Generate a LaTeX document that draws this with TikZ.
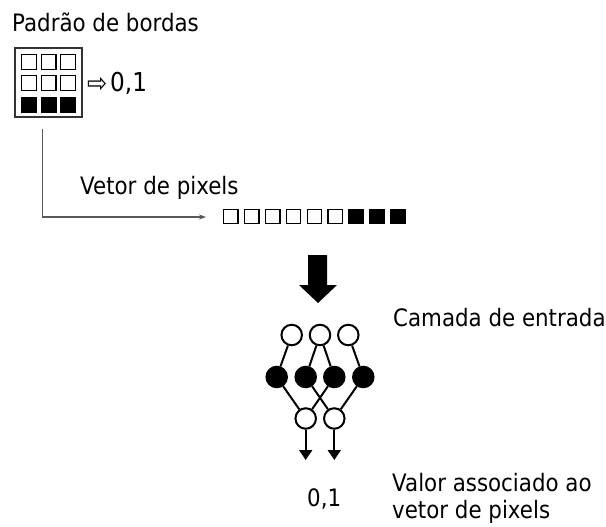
\documentclass[tikz,border=0pt]{standalone}
\usepackage{fontspec}
\setmainfont{DejaVu Sans}[FakeStretch=0.89]
\usetikzlibrary{arrows.meta}
\begin{document}
\begin{tikzpicture}[x=1pt,y=-1pt,
  lbl/.style={anchor=base west,inner sep=0pt,font=\fontsize{24}{29}\selectfont},
  wsq/.style={draw=black,line width=1.3pt,fill=white,minimum size=14.5pt,inner sep=0pt},
  bsq/.style={draw=black,line width=1.3pt,fill=black,minimum size=14.5pt,inner sep=0pt},
  gsq/.style={draw=black,line width=1.2pt,fill=white,minimum size=14.8pt,inner sep=0pt},
  gbsq/.style={draw=black,line width=1.2pt,fill=black,minimum size=14.8pt,inner sep=0pt},
  wn/.style={circle,draw=black,line width=2pt,fill=white,minimum size=20.5pt,inner sep=0pt},
  bn/.style={circle,draw=black,line width=2pt,fill=black,minimum size=20.5pt,inner sep=0pt},
  edge/.style={line width=2pt,draw=black},
  outarrow/.style={line width=2pt,-{Triangle[width=13pt,length=10pt]}},
  feed/.style={line width=1.2pt,draw=black!65,-{Stealth[length=7pt,width=5pt]}}
]
\useasboundingbox (0,0) rectangle (606,527);

% title
\node[lbl] (title) at (12,32) {Padrão de bordas};

% 3x3 pattern
\node[draw=black!80,line width=1.2pt,minimum width=67pt,minimum height=69pt,inner sep=0pt] (grid) at (48.5,82.5) {};
\foreach \i/\x in {1/28.8,2/48.5,3/68.2}{
  \node[gsq] (g1\i) at (\x,62) {};
  \node[gsq] (g2\i) at (\x,83) {};
  \node[gbsq] (g3\i) at (\x,105.5) {};
}
\node[anchor=base west,inner sep=0pt,font=\fontsize{27}{30}\selectfont] (imp) at (87,93) {⇨};
\node[lbl,font=\fontsize{26}{30}\selectfont] (v1) at (110,92) {0,1};

% feed line
\coordinate (fstart) at (42.3,129);
\coordinate (fcorner) at (42.3,217);
\coordinate (fend) at (206,217);
\draw[feed] (fstart) -- (fcorner) -- (fend);

\node[lbl] (vetor) at (80,194) {Vetor de pixels};

% pixel vector
\foreach \i in {0,...,5}{
  \node[wsq] (p\i) at ({230.8+20.9*\i},216.5) {};
}
\foreach \i in {6,7,8}{
  \node[bsq] (p\i) at ({230.8+20.9*\i},216.5) {};
}

% big arrow
\fill[black] (308,255) -- (327,255) -- (327,285) -- (337,285) -- (318,303) -- (299,285) -- (308,285) -- cycle;

% network
\node[wn] (t1) at (291.7,335) {};
\node[wn] (t2) at (320,335) {};
\node[wn] (t3) at (348.3,335) {};
\node[bn] (h1) at (276.7,377) {};
\node[bn] (h2) at (305.7,377) {};
\node[bn] (h3) at (334.3,377) {};
\node[bn] (h4) at (363.3,377) {};
\node[wn] (o1) at (305.7,418.5) {};
\node[wn] (o2) at (334.3,418.5) {};
\draw[edge] (t1) -- (h1);
\draw[edge] (t2) -- (h2);
\draw[edge] (t2) -- (h3);
\draw[edge] (t3) -- (h4);
\draw[edge] (h1) -- (o1);
\draw[edge] (h3) -- (o1);
\draw[edge] (h2) -- (o2);
\draw[edge] (h4) -- (o2);

\coordinate (a1) at (305.7,460);
\coordinate (a2) at (334.3,460);
\draw[outarrow] (o1) -- (a1);
\draw[outarrow] (o2) -- (a2);

\node[lbl] (camada) at (393,326) {Camada de entrada};
\node[lbl] (v2) at (307,506) {0,1};
\node[lbl] (valor1) at (392,491) {Valor associado ao};
\node[lbl] (valor2) at (392,518) {vetor de pixels};
\end{tikzpicture}
\end{document}
